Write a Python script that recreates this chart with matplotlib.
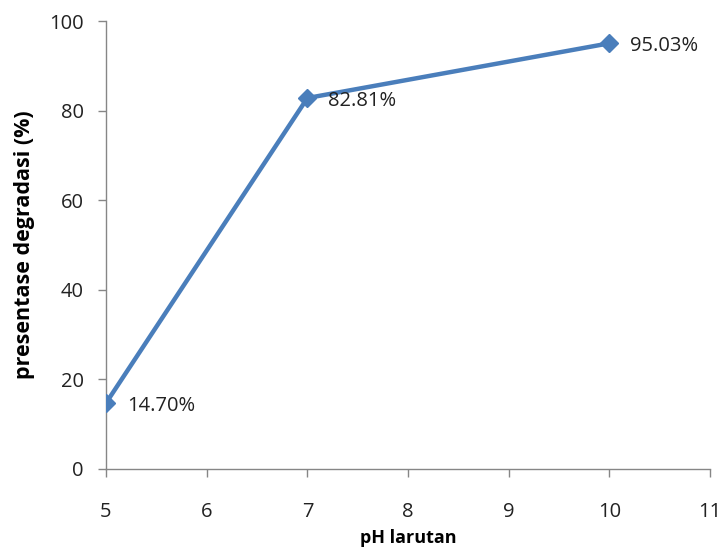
import matplotlib
matplotlib.use("Agg")
import matplotlib.pyplot as plt

ph = [5, 7, 10]
degradasi = [14.70, 82.81, 95.03]
labels = ["14.70%", "82.81%", "95.03%"]
x_ticks = [5, 6, 7, 8, 9, 10, 11]
y_ticks = [0, 20, 40, 60, 80, 100]

plt.rcParams["font.family"] = ["Open Sans", "DejaVu Sans"]

fig = plt.figure(figsize=(7.21, 5.53), dpi=100)
ax = fig.add_axes([0.147, 0.152, 0.838, 0.810])

line_color = "#4a7ebb"
ax.plot(ph, degradasi, color=line_color, linewidth=3.2, marker="D",
        markersize=9, markerfacecolor=line_color, markeredgecolor=line_color,
        zorder=3)

for x, y, t in zip(ph, degradasi, labels):
    ax.annotate(t, (x, y), xytext=(15, -2), textcoords="offset points",
                ha="left", va="center", fontsize=14.5, color="#222222")

ax.set_xlim(5, 11)
ax.set_ylim(0, 100)
ax.set_xticks(x_ticks)
ax.set_yticks(y_ticks)

for side in ("top", "right"):
    ax.spines[side].set_visible(False)
for side in ("left", "bottom"):
    ax.spines[side].set_color("#868686")
    ax.spines[side].set_linewidth(1.0)

ax.tick_params(axis="both", direction="out", length=5.5, width=1.0,
               color="#868686", labelsize=14.5, labelcolor="#222222")
ax.tick_params(axis="x", pad=18.5)
ax.tick_params(axis="y", pad=10.5)

ax.set_xlabel("pH larutan", fontsize=13, fontweight="bold", labelpad=5)
ax.set_ylabel("presentase degradasi (%)", fontsize=15.5, fontweight="bold",
              labelpad=10)

fig.savefig("out.png", dpi=100)
